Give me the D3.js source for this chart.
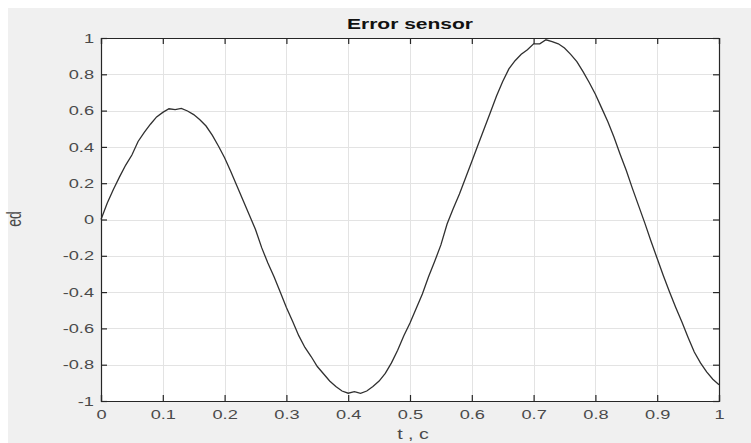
<!DOCTYPE html>
<html><head><meta charset="utf-8">
<script src="https://cdn.jsdelivr.net/npm/d3@7"></script>
<style>body{margin:0;background:#fff}svg{display:block}</style>
</head><body>
<svg id="c" width="751" height="443"></svg>
<script>
const tValues = d3.range(0, 101).map(i => i / 100);
const edValues = [
 0, 0.09, 0.165, 0.235, 0.30, 0.355, 0.43, 0.48, 0.525, 0.565,
 0.59, 0.61, 0.605, 0.612, 0.598, 0.578, 0.55, 0.515, 0.465, 0.405,
 0.34, 0.265, 0.185, 0.105, 0.025, -0.055, -0.155, -0.24, -0.315, -0.40,
 -0.485, -0.56, -0.64, -0.705, -0.755, -0.81, -0.85, -0.89, -0.92, -0.945,
 -0.957, -0.948, -0.958, -0.945, -0.92, -0.89, -0.848, -0.79, -0.72, -0.64,
 -0.57, -0.49, -0.41, -0.315, -0.23, -0.14, -0.025, 0.06, 0.14, 0.23,
 0.32, 0.41, 0.50, 0.59, 0.68, 0.76, 0.83, 0.875, 0.91, 0.935,
 0.968, 0.968, 0.99, 0.98, 0.968, 0.945, 0.91, 0.87, 0.815, 0.755,
 0.69, 0.615, 0.54, 0.455, 0.36, 0.27, 0.17, 0.075, -0.02, -0.12,
 -0.215, -0.31, -0.40, -0.485, -0.565, -0.65, -0.73, -0.79, -0.84, -0.88,
 -0.91
];
const xTicks = [0, 0.1, 0.2, 0.3, 0.4, 0.5, 0.6, 0.7, 0.8, 0.9, 1];
const yTicks = [-1, -0.8, -0.6, -0.4, -0.2, 0, 0.2, 0.4, 0.6, 0.8, 1];
const titleText = "Error sensor";
const xLabel = "t , c";
const yLabel = "ed";

const svg = d3.select("#c");
const L = 101, R = 719, T = 38, B = 401;
const STRETCH = 1.4;
const x = d3.scaleLinear().domain([0, 1]).range([L, R]);
const y = d3.scaleLinear().domain([-1, 1]).range([B, T]);
const axisColor = "#262626";
const font = "'Liberation Sans', Arial, Helvetica, sans-serif";

svg.append("rect").attr("x", 8).attr("y", 8).attr("width", 743).attr("height", 435).attr("fill", "#f0f0f0");
svg.append("rect").attr("x", L).attr("y", T).attr("width", R - L).attr("height", B - T).attr("fill", "#fff");

// grid
const g = svg.append("g");
g.selectAll(".gx").data(xTicks).join("line")
  .attr("x1", d => Math.round(x(d)) + 0.5).attr("x2", d => Math.round(x(d)) + 0.5)
  .attr("y1", T).attr("y2", B).attr("stroke", "#e3e3e3").attr("stroke-width", 1);
g.selectAll(".gy").data(yTicks).join("line")
  .attr("y1", d => Math.round(y(d)) + 0.5).attr("y2", d => Math.round(y(d)) + 0.5)
  .attr("x1", L).attr("x2", R).attr("stroke", "#e3e3e3").attr("stroke-width", 1);

// curve
const data = tValues.map((t, i) => [t, edValues[i]]);
svg.append("path").datum(data)
  .attr("d", d3.line().x(d => x(d[0])).y(d => y(d[1])))
  .attr("fill", "none").attr("stroke", "#303030").attr("stroke-width", 1.3);

// axes
const fmt = d => String(d);
const xb = svg.append("g").attr("transform", `translate(0,${B})`)
  .call(d3.axisBottom(x).tickValues(xTicks).tickSize(-6).tickPadding(9).tickFormat(fmt));
const xt = svg.append("g").attr("transform", `translate(0,${T})`)
  .call(d3.axisTop(x).tickValues(xTicks).tickSize(-6).tickFormat(""));
const yl = svg.append("g").attr("transform", `translate(${L},0)`)
  .call(d3.axisLeft(y).tickValues(yTicks).tickSize(-6).tickPadding(7).tickFormat(fmt));
const yr = svg.append("g").attr("transform", `translate(${R},0)`)
  .call(d3.axisRight(y).tickValues(yTicks).tickSize(-6).tickFormat(""));
[xb, xt, yl, yr].forEach(a => {
  a.selectAll("path").attr("stroke", axisColor).attr("stroke-width", 1.2);
  a.selectAll("line").attr("stroke", axisColor).attr("stroke-width", 1.2);
  a.selectAll("text").attr("fill", "#4a4a4a").style("font-family", font).style("font-size", "13px");
});

const title = svg.append("text").attr("x", 410).attr("y", 29).attr("text-anchor", "middle")
  .style("font-family", font).style("font-size", "15px").style("font-weight", "bold")
  .attr("fill", "#111").text(titleText);
svg.append("text").attr("x", 413).attr("y", 439).attr("text-anchor", "middle")
  .style("font-family", font).style("font-size", "14px").attr("fill", "#4a4a4a").text(xLabel);

// horizontally stretched text, as in the reference image
svg.selectAll("text").each(function() {
  const w = this.getComputedTextLength();
  if (w > 0) d3.select(this).attr("textLength", w * STRETCH).attr("lengthAdjust", "spacingAndGlyphs");
});

svg.append("text").attr("transform", `translate(21,219) scale(${STRETCH},1) rotate(-90)`).attr("text-anchor", "middle")
  .style("font-family", font).style("font-size", "14px").attr("fill", "#4a4a4a").text(yLabel);
</script>
</body></html>
